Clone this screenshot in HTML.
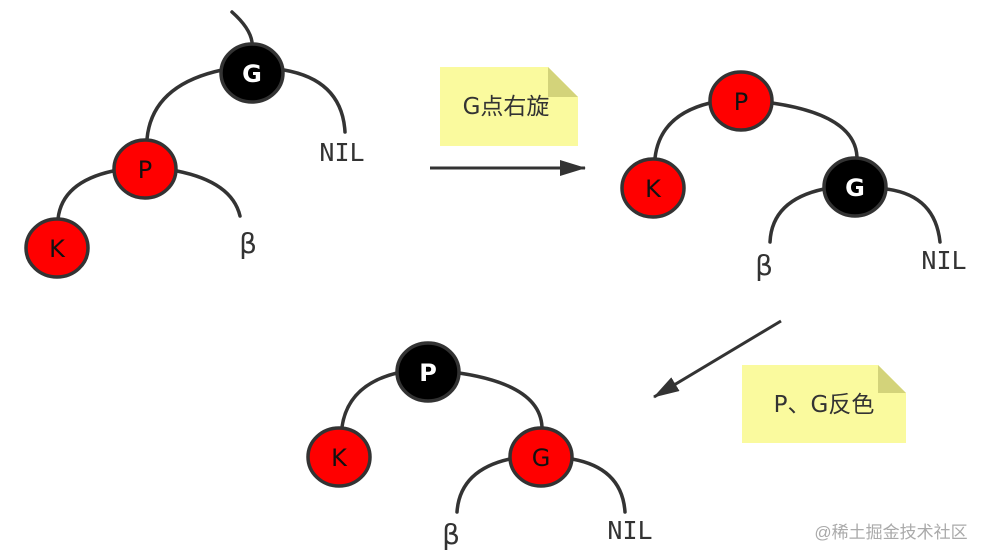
<!DOCTYPE html>
<html><head><meta charset="utf-8"><style>body{margin:0;background:#fff}svg{display:block}</style></head><body>
<svg width="991" height="560" viewBox="0 0 991 560" xmlns="http://www.w3.org/2000/svg">
<defs>
<marker id="ah2" markerWidth="26" markerHeight="16" refX="25" refY="8" orient="auto" markerUnits="userSpaceOnUse"><path d="M0,0 L26,8 L0,16 z" fill="#333"/></marker></defs>
<g fill="none" stroke="#333" stroke-width="3.5" stroke-linecap="round">
<path d="M232,12 Q250,28 252,42"/>
<path d="M222,70 Q152,85 147,139"/>
<path d="M284,70 Q342,80 345,132"/>
<path d="M113,171 Q62,182 58,219"/>
<path d="M177,171 Q232,182 240,216"/>
<path d="M710,103 Q660,115 655,158"/>
<path d="M772,103 Q855,115 857,157"/>
<path d="M824,189 Q772,200 770,242"/>
<path d="M886,189 Q935,195 940,242"/>
<path d="M397,373 Q348,385 342,427"/>
<path d="M459,373 Q540,385 542,427"/>
<path d="M510,459 Q460,470 457,512"/>
<path d="M572,459 Q622,468 625,512"/>
</g>
<line x1="430" y1="168" x2="585" y2="168" stroke="#333" stroke-width="3" marker-end="url(#ah2)"/>
<line x1="781" y1="321" x2="654" y2="397" stroke="#333" stroke-width="3" marker-end="url(#ah2)"/>
<g stroke="#333" stroke-width="3.5">
<ellipse cx="252" cy="73" rx="31" ry="29" fill="#000"/>
<ellipse cx="145" cy="169" rx="31" ry="29" fill="#f00"/>
<ellipse cx="57" cy="248" rx="31" ry="29" fill="#f00"/>
<ellipse cx="741" cy="101" rx="31" ry="29" fill="#f00"/>
<ellipse cx="653" cy="188" rx="31" ry="29" fill="#f00"/>
<ellipse cx="855" cy="187" rx="31" ry="29" fill="#000"/>
<ellipse cx="428" cy="372" rx="31" ry="29" fill="#000"/>
<ellipse cx="339" cy="457" rx="31" ry="29" fill="#f00"/>
<ellipse cx="541" cy="457" rx="31" ry="29" fill="#f00"/>
</g>
<g font-family="DejaVu Sans, sans-serif" font-size="24" text-anchor="middle">
<text x="252" y="82" fill="#fff" font-weight="bold">G</text>
<text x="145" y="178" fill="#111">P</text>
<text x="57" y="257" fill="#111">K</text>
<text x="741" y="110" fill="#111">P</text>
<text x="653" y="197" fill="#111">K</text>
<text x="855" y="196" fill="#fff" font-weight="bold">G</text>
<text x="428" y="381" fill="#fff" font-weight="bold">P</text>
<text x="339" y="466" fill="#111">K</text>
<text x="541" y="466" fill="#111">G</text>
</g>
<g font-family="DejaVu Sans Mono, monospace" font-size="25" fill="#333" text-anchor="middle">
<text x="342" y="161">NIL</text>
<text x="944" y="269">NIL</text>
<text x="630" y="539">NIL</text>
</g>
<g font-family="DejaVu Sans, sans-serif" font-size="28" fill="#333" text-anchor="middle">
<text x="248" y="253">β</text>
<text x="764" y="275">β</text>
<text x="451" y="544">β</text>
</g>
<path d="M440,67 L548,67 L578,97 L578,146 L440,146 z" fill="#fafa9e"/>
<path d="M548,67 L578,97 L548,97 z" fill="#d3d37a"/>
<path d="M742,365 L878,365 L906,393 L906,443 L742,443 z" fill="#fafa9e"/>
<path d="M878,365 L906,393 L878,393 z" fill="#d3d37a"/>
<g font-family="DejaVu Sans, Noto Sans CJK SC, sans-serif" font-size="23" fill="#333" text-anchor="middle">
<text x="506" y="114">G点右旋</text>
<text x="824" y="412">P、G反色</text>
</g>
<text x="891" y="538" font-family="Liberation Sans, Noto Sans CJK SC, sans-serif" font-size="17" fill="#aaa" text-anchor="middle">@稀土掘金技术社区</text>
</svg>
</body></html>
